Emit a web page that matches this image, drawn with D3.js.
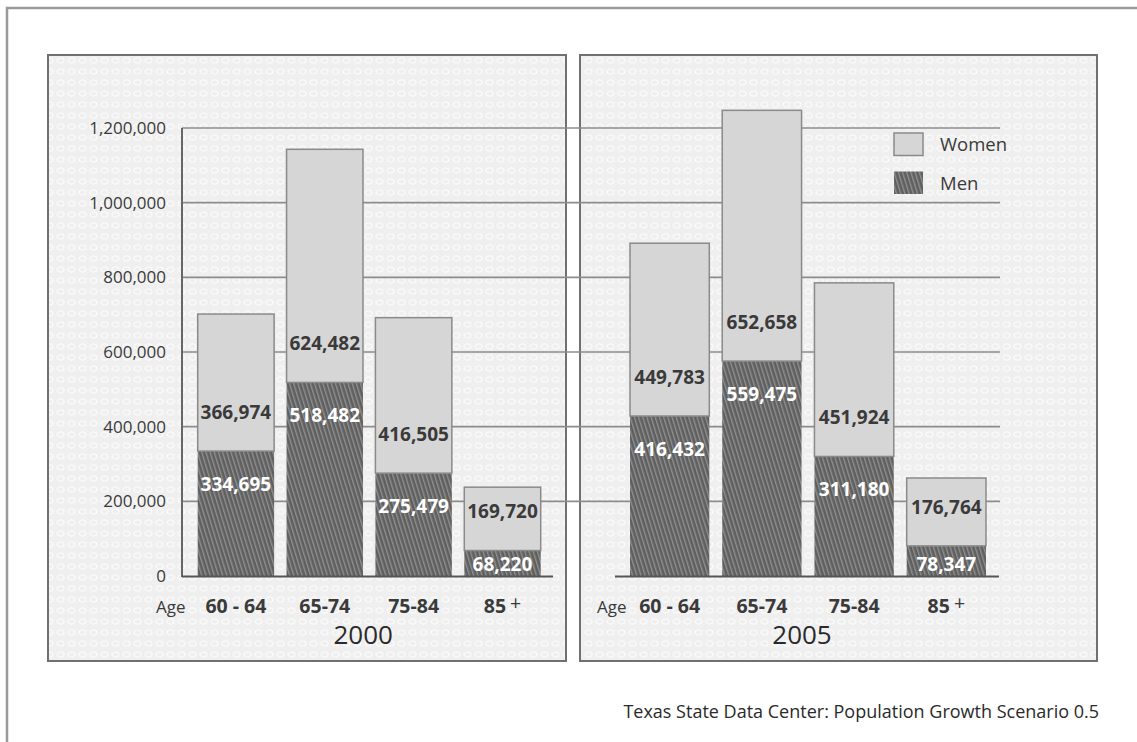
<!DOCTYPE html>
<html>
<head>
<meta charset="utf-8">
<script src="https://cdn.jsdelivr.net/npm/d3@7"></script>
<style>
  body { margin: 0; background: #fff; }
  text { font-family: "Open Sans", "DejaVu Sans", sans-serif; }
</style>
</head>
<body>
<svg id="chart" width="1137" height="742"></svg>
<script>
// data
const ageGroups = ["60 - 64", "65-74", "75-84", "85 +"];
const years = ["2000", "2005"];
const men2000 = [334695, 518482, 275479, 68220];
const women2000 = [366974, 624482, 416505, 169720];
const men2005 = [416432, 559475, 311180, 78347];
const women2005 = [449783, 652658, 451924, 176764];
const yTicks = [0, 200000, 400000, 600000, 800000, 1000000, 1200000];
const legendKeys = ["Women", "Men"];

const width = 1137, height = 742;
const svg = d3.select("#chart");
const defs = svg.append("defs");

// dotted panel background
const dots = defs.append("pattern")
    .attr("id", "dots")
    .attr("patternUnits", "userSpaceOnUse")
    .attr("width", 11).attr("height", 11);
dots.append("rect").attr("width", 11).attr("height", 11).attr("fill", "#efefef");
dots.append("ellipse")
    .attr("cx", 5.5).attr("cy", 5.5).attr("rx", 3.4).attr("ry", 2.6)
    .attr("fill", "none").attr("stroke", "#fafafa").attr("stroke-width", 1.3);

// hatching for the men bars
const hatch = defs.append("pattern")
    .attr("id", "hatch")
    .attr("patternUnits", "userSpaceOnUse")
    .attr("width", 4).attr("height", 4)
    .attr("patternTransform", "rotate(-17)");
hatch.append("rect").attr("width", 4).attr("height", 4).attr("fill", "#5f5f5f");
hatch.append("rect").attr("width", 1.4).attr("height", 4).attr("fill", "#8f8f8f");

// outer frame
svg.append("rect")
    .attr("x", 7).attr("y", 8).attr("width", 1300).attr("height", 900)
    .attr("fill", "none").attr("stroke", "#9a9a9a").attr("stroke-width", 2.5);

const panels = [
  {year: years[0], men: men2000, women: women2000, x0: 48, w: 518,
   band: [197.7, 540.7], yTop: 128, base: [182, 553], age: 156},
  {year: years[1], men: men2005, women: women2005, x0: 580, w: 517,
   band: [630, 986], yTop: 115, base: [615, 999], age: 597}
];

panels.forEach(p => {
  svg.append("rect")
      .attr("x", p.x0).attr("y", 55).attr("width", p.w).attr("height", 606)
      .attr("fill", "url(#dots)").attr("stroke", "#707070").attr("stroke-width", 2);
});

// shared gridlines (run across both panels)
const y = d3.scaleLinear().domain([0, 1200000]).range([576, 128]);

svg.append("g")
  .selectAll("line")
  .data(yTicks.filter(d => d > 0))
  .join("line")
    .attr("x1", 182).attr("x2", 1000)
    .attr("y1", d => y(d)).attr("y2", d => y(d))
    .attr("stroke", "#8c8c8c").attr("stroke-width", 1.6);

svg.append("g")
  .selectAll("text")
  .data(yTicks)
  .join("text")
    .attr("x", 166)
    .attr("y", d => y(d))
    .attr("dy", "0.35em")
    .attr("text-anchor", "end")
    .attr("font-size", 17)
    .attr("fill", "#3a3a3a")
    .text(d => d3.format(",")(d));

svg.append("line")
    .attr("x1", 182).attr("x2", 182).attr("y1", y(1200000)).attr("y2", 577)
    .attr("stroke", "#666").attr("stroke-width", 2);

panels.forEach(p => {
  const rows = ageGroups.map((a, i) => ({age: a, men: p.men[i], women: p.women[i]}));
  const stacked = d3.stack().keys(["men", "women"])(rows);

  const x = d3.scaleBand().domain(ageGroups).range(p.band).paddingInner(0.14).paddingOuter(0);
  const yp = d3.scaleLinear().domain([0, 1200000]).range([576, p.yTop]);

  const g = svg.append("g");

  g.selectAll("g.layer")
    .data(stacked)
    .join("g")
      .attr("class", "layer")
    .selectAll("rect")
    .data(d => d.map(v => Object.assign(v, {key: d.key})))
    .join("rect")
      .attr("x", d => x(d.data.age))
      .attr("width", x.bandwidth())
      .attr("y", d => yp(d[1]))
      .attr("height", d => yp(d[0]) - yp(d[1]))
      .attr("fill", d => d.key === "men" ? "url(#hatch)" : "#d6d6d7")
      .attr("stroke", d => d.key === "men" ? "none" : "#8a8a8a")
      .attr("stroke-width", 1.5);

  // baseline
  g.append("line")
      .attr("x1", p.base[0]).attr("x2", p.base[1])
      .attr("y1", 576.5).attr("y2", 576.5)
      .attr("stroke", "#555").attr("stroke-width", 2);

  // value labels
  g.selectAll("text.men")
    .data(rows)
    .join("text")
      .attr("class", "men")
      .attr("x", d => x(d.age) + x.bandwidth() / 2)
      .attr("y", d => Math.min(yp(d.men) + 33, 564))
      .attr("dy", "0.35em")
      .attr("text-anchor", "middle")
      .attr("font-size", 19).attr("font-weight", 700)
      .attr("fill", "#fff")
      .text(d => d3.format(",")(d.men));

  g.selectAll("text.women")
    .data(rows)
    .join("text")
      .attr("class", "women")
      .attr("x", d => x(d.age) + x.bandwidth() / 2)
      .attr("y", d => yp(d.men) - 39)
      .attr("dy", "0.35em")
      .attr("text-anchor", "middle")
      .attr("font-size", 19).attr("font-weight", 700)
      .attr("fill", "#3a3a3a")
      .text(d => d3.format(",")(d.women));

  // category labels
  const cat = g.selectAll("text.cat")
    .data(ageGroups)
    .join("text")
      .attr("class", "cat")
      .attr("x", d => x(d) + x.bandwidth() / 2)
      .attr("y", 606)
      .attr("dy", "0.35em")
      .attr("text-anchor", "middle")
      .attr("font-size", 19.5).attr("font-weight", 700)
      .attr("fill", "#3a3a3a");
  cat.append("tspan").text(d => d.replace(" +", ""));
  cat.filter(d => d.endsWith("+"))
    .append("tspan")
      .attr("font-weight", 400).attr("dy", -3).attr("dx", 4)
      .text("+");

  g.append("text")
      .attr("x", p.age).attr("y", 607).attr("dy", "0.35em")
      .attr("font-size", 17).attr("fill", "#3a3a3a")
      .text("Age");

  g.append("text")
      .attr("x", (p.band[0] + p.band[1]) / 2 - 6).attr("y", 635).attr("dy", "0.35em")
      .attr("text-anchor", "middle")
      .attr("font-size", 26).attr("fill", "#2a2a2a")
      .text(p.year);
});

// legend
const legend = svg.append("g").attr("transform", "translate(894,133)");
legend.selectAll("rect")
  .data(legendKeys)
  .join("rect")
    .attr("x", 0).attr("y", (d, i) => i * 38.5)
    .attr("width", 29).attr("height", 22.5)
    .attr("fill", d => d === "Men" ? "url(#hatch)" : "#d6d6d7")
    .attr("stroke", d => d === "Men" ? "none" : "#8a8a8a")
    .attr("stroke-width", 1.5);
legend.selectAll("text")
  .data(legendKeys)
  .join("text")
    .attr("x", 46).attr("y", (d, i) => i * 38.5 + 12)
    .attr("dy", "0.35em")
    .attr("font-size", 18.5).attr("fill", "#3a3a3a")
    .text(d => d);

svg.append("text")
    .attr("x", 1099).attr("y", 712).attr("dy", "0.35em")
    .attr("text-anchor", "end")
    .attr("font-size", 18).attr("fill", "#2a2a2a")
    .text("Texas State Data Center: Population Growth Scenario 0.5");
</script>
</body>
</html>
